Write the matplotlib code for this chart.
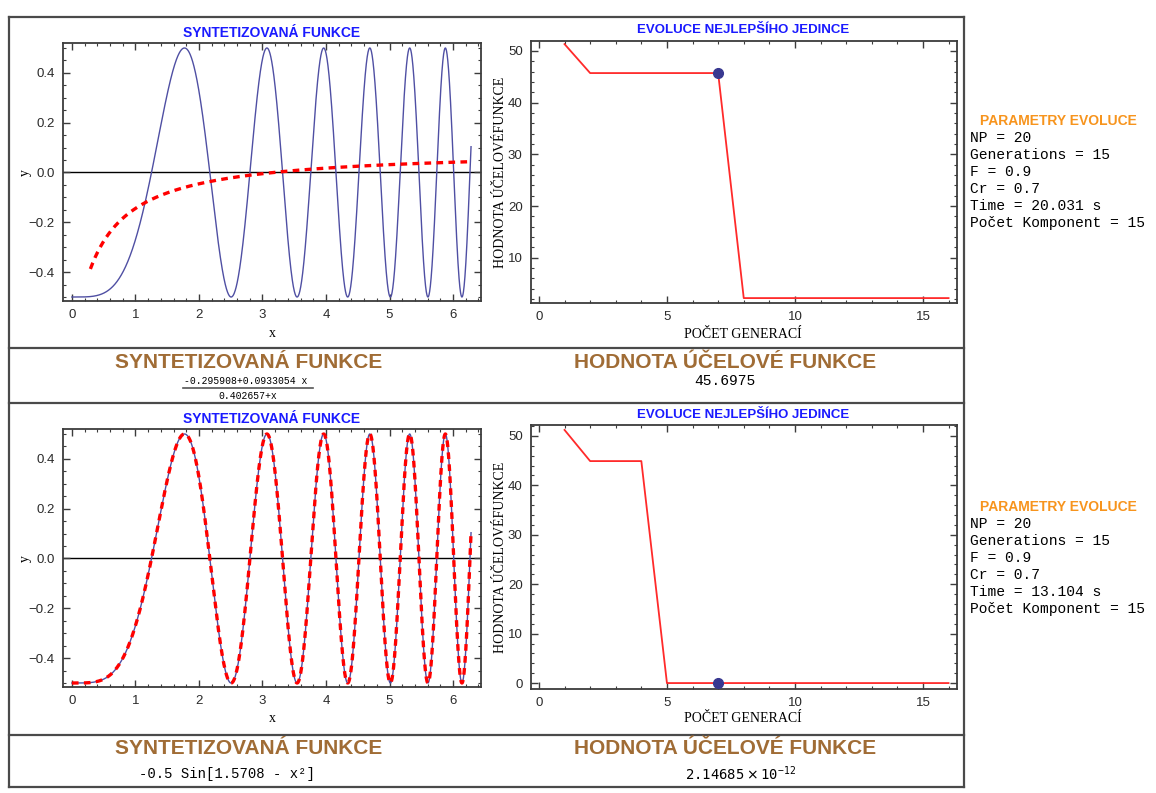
import numpy as np
import matplotlib
matplotlib.use("Agg")
import matplotlib.pyplot as plt
from matplotlib.lines import Line2D
from matplotlib.ticker import MultipleLocator

# --- data ---
# target function: -0.5 Sin[1.5708 - x^2]
target_amp = -0.5
target_phase = 1.5708
x_max = 6.2832

# synthesized function (run 1): (-0.295908 + 0.0933054 x) / (0.402657 + x)
synth1_num = [-0.295908, 0.0933054]
synth1_den = [0.402657, 1.0]
synth1_xstart = 0.29

gens = list(range(1, 17))
best_run1 = [51.3, 45.7, 45.7, 45.7, 45.7, 45.7, 45.7, 2.2, 2.2, 2.2, 2.2, 2.2, 2.2, 2.2, 2.2, 2.2]
best_run2 = [51.2, 44.9, 44.9, 44.9, 0.0, 0.0, 0.0, 0.0, 0.0, 0.0, 0.0, 0.0, 0.0, 0.0, 0.0, 0.0]
dot_gen = 7
dot_val1 = 45.6975
dot_val2 = 2.14685e-12

params1 = ["NP = 20", "Generations = 15", "F = 0.9", "Cr = 0.7", "Time = 20.031 s", "Počet Komponent = 15"]
params2 = ["NP = 20", "Generations = 15", "F = 0.9", "Cr = 0.7", "Time = 13.104 s", "Počet Komponent = 15"]

W, H = 1156, 793
fig = plt.figure(figsize=(W / 100, H / 100), dpi=100)
fig.patch.set_facecolor("white")

def fx(px):
    return px / W

def fy(py):
    return 1 - py / H

def box(l, t, r, b):
    return [fx(l), fy(b), fx(r) - fx(l), fy(t) - fy(b)]

sans_n = ["Liberation Sans Narrow", "Liberation Sans", "DejaVu Sans"]
sans = ["Liberation Sans", "DejaVu Sans"]
serif = ["Liberation Serif", "DejaVu Serif"]
mono = ["Liberation Mono", "DejaVu Sans Mono"]
brown = "#a06c35"
blue_t = "#1a1aff"
orange = "#f7941d"
curve_blue = "#4f4fa3"

def style(ax):
    for s in ax.spines.values():
        s.set_color("#3c3c3c")
        s.set_linewidth(1.3)
    ax.tick_params(which="both", direction="in", top=True, right=True, color="#3c3c3c")
    ax.tick_params(which="major", length=5, width=1.0, labelsize=9.5, labelcolor="#2a2a2a", pad=6)
    ax.tick_params(which="minor", length=2.5, width=0.8)
    for lab in ax.get_xticklabels() + ax.get_yticklabels():
        lab.set_fontfamily(sans)

xs = np.linspace(0, x_max, 3000)
target = target_amp * np.sin(target_phase - xs ** 2)

def fun_axes(top, bottom, synth_x, synth_y, title_y):
    ax = fig.add_axes(box(63, top, 481, bottom))
    ax.plot(xs, target, color=curve_blue, lw=1.0, zorder=2)
    ax.plot(synth_x, synth_y, color="red", lw=2.4, dashes=(2.0, 1.6), zorder=3)
    ax.axhline(0, color="black", lw=1.0, zorder=1)
    ax.set_xlim(-0.14, 6.44)
    ax.set_ylim(-0.516, 0.52)
    ax.xaxis.set_major_locator(MultipleLocator(1))
    ax.xaxis.set_minor_locator(MultipleLocator(0.2))
    ax.yaxis.set_major_locator(MultipleLocator(0.2))
    ax.yaxis.set_minor_locator(MultipleLocator(0.05))
    ax.set_yticks([-0.4, -0.2, 0.0, 0.2, 0.4])
    ax.set_yticklabels(["\u22120.4", "\u22120.2", "0.0", "0.2", "0.4"])
    style(ax)
    fig.text(fx(272), fy(333 + (top - 43)), "x", family=serif, fontsize=10, ha="center", va="center")
    fig.text(fx(25), fy((top + bottom) / 2 + 1), "y", family=serif, fontsize=10, ha="center", va="center", rotation=90)
    fig.text(fx(272), fy(title_y), "SYNTETIZOVANÁ FUNKCE", family=sans, fontsize=10, fontweight="bold",
             color=blue_t, ha="center", va="center")
    return ax

def evo_axes(top, bottom, ylim, vals, dot_val, title_y):
    ax = fig.add_axes(box(531, top, 957, bottom))
    ax.plot(gens, vals, color="#ff2a2a", lw=1.3)
    ax.plot([dot_gen], [dot_val], "o", color="#383890", ms=7, zorder=4)
    ax.set_xlim(-0.31, 16.33)
    ax.set_ylim(*ylim)
    ax.xaxis.set_major_locator(MultipleLocator(5))
    ax.xaxis.set_minor_locator(MultipleLocator(1))
    ax.yaxis.set_major_locator(MultipleLocator(10))
    ax.yaxis.set_minor_locator(MultipleLocator(2))
    style(ax)
    fig.text(fx(743), fy(334 + (top - 41)), "POČET GENERACÍ", family=serif, fontsize=10, ha="center", va="center")
    fig.text(fx(500), fy((top + bottom) / 2), "HODNOTA ÚČELOVÉFUNKCE", family=serif, fontsize=10,
             ha="center", va="center", rotation=90)
    fig.text(fx(743), fy(title_y), "EVOLUCE NEJLEPŠÍHO JEDINCE", family=sans, fontsize=9.5, fontweight="bold",
             color=blue_t, ha="center", va="center")
    return ax

# row 1
xs1 = xs[xs >= synth1_xstart]
synth1 = (synth1_num[0] + synth1_num[1] * xs1) / (synth1_den[0] + synth1_den[1] * xs1)
fun_axes(43, 301, xs1, synth1, 33)
evo_axes(41, 303, (1.25, 51.9), best_run1, dot_val1, 30)

# row 2 (synthesized function equals the target)
fun_axes(429, 687, xs, target, 419)
evo_axes(425, 689, (-1.2, 52.2), best_run2, dot_val2, 415)

# caption rows
for cy in (362, 748):
    fig.text(fx(249), fy(cy), "SYNTETIZOVANÁ FUNKCE", family=sans_n, fontsize=15, fontweight="bold",
             color=brown, ha="center", va="center")
    fig.text(fx(725), fy(cy), "HODNOTA ÚČELOVÉ FUNKCE", family=sans_n, fontsize=15, fontweight="bold",
             color=brown, ha="center", va="center")

fig.text(fx(246), fy(381), "-0.295908+0.0933054\u2009x", family=mono, fontsize=7, ha="center", va="center")
fig.add_artist(Line2D([fx(183), fx(313)], [fy(388), fy(388)], color="#555555", lw=1.2))
fig.text(fx(248), fy(396), "0.402657+x", family=mono, fontsize=7, ha="center", va="center")
fig.text(fx(725), fy(381), "45.6975", family=mono, fontsize=10.5, ha="center", va="center")
fig.text(fx(227), fy(774), "-0.5 Sin[1.5708 - x\u00b2]", family=mono, fontsize=10, ha="center", va="center")
fig.text(fx(741), fy(774), r"$\mathtt{2.14685}\times\mathtt{10}^{\mathtt{-12}}$", fontsize=10,
         ha="center", va="center")

# notebook frame
frame_kw = dict(color="#4a4a4a", lw=1.6)
for py in (17, 348, 403, 735, 787):
    fig.add_artist(Line2D([fx(9), fx(964)], [fy(py), fy(py)], **frame_kw))
for px in (9, 964):
    fig.add_artist(Line2D([fx(px), fx(px)], [fy(17), fy(787)], **frame_kw))

# parameter blocks
for ty, plist in ((121, params1), (507, params2)):
    fig.text(fx(1058), fy(ty), "PARAMETRY EVOLUCE", family=sans, fontsize=10, fontweight="bold",
             color=orange, ha="center", va="center")
    for i, line in enumerate(plist):
        fig.text(fx(970), fy(ty + 17 * (i + 1)), line, family=mono, fontsize=10.5, ha="left", va="center")

fig.savefig("out.png", dpi=100)
